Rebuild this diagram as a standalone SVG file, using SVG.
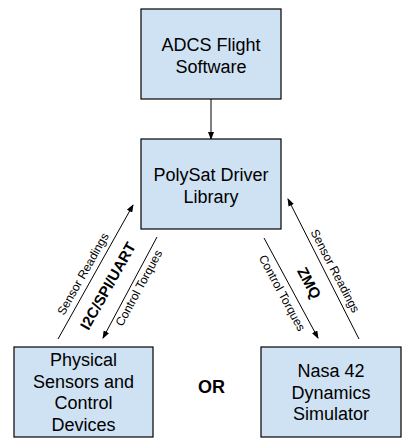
<svg xmlns="http://www.w3.org/2000/svg" width="420" height="447" viewBox="0 0 420 447">
<defs>
<style>
.box{fill:#cfe2f3;stroke:#000;stroke-width:1.2}
.t{font-family:"Liberation Sans",Arial,sans-serif;font-size:18px;fill:#000;text-anchor:middle}
.lbl{font-family:"Liberation Sans",Arial,sans-serif;font-size:12px;fill:#000;text-anchor:middle}
.bold{font-family:"Liberation Sans",Arial,sans-serif;font-size:15px;font-weight:bold;fill:#000;text-anchor:middle}
.c{stroke:#000;stroke-width:1;fill:none;marker-end:url(#ah)}
</style>
<marker id="ah" markerWidth="8" markerHeight="6" refX="7" refY="3" orient="auto" markerUnits="userSpaceOnUse">
<path d="M0,0 L8,3 L0,6 z" fill="#000"/>
</marker>
</defs>
<rect width="420" height="447" fill="#fff"/>
<g id="connectors">
<line class="c" x1="211" y1="99" x2="211" y2="139"/>
<line class="c" x1="58" y1="339" x2="133" y2="205"/>
<line class="c" x1="157" y1="237" x2="103" y2="338"/>
<line class="c" x1="359" y1="339" x2="288" y2="199"/>
<line class="c" x1="264" y1="238" x2="318" y2="338"/>
<text class="lbl" transform="translate(83,274) rotate(-60.6)" y="4">Sensor Readings</text>
<text class="bold" transform="translate(108,286) rotate(-60.6)" y="5">I2C/SPI/UART</text>
<text class="lbl" transform="translate(139,288) rotate(-61.5)" y="4">Control Torques</text>
<text class="lbl" transform="translate(335,271) rotate(62.5)" y="4">Sensor Readings</text>
<text class="bold" transform="translate(309,283) rotate(62)" y="5">ZMQ</text>
<text class="lbl" transform="translate(282,293) rotate(61.6)" y="4">Control Torques</text>
</g>
<g id="adcs">
<rect class="box" x="141" y="9" width="140" height="90"/>
<text class="t" x="211" y="50.5">ADCS Flight</text>
<text class="t" x="211" y="72.5">Software</text>
</g>
<g id="polysat">
<rect class="box" x="141" y="139" width="140" height="90"/>
<text class="t" x="211" y="180.5">PolySat Driver</text>
<text class="t" x="211" y="202.5">Library</text>
</g>
<g id="physical">
<rect class="box" x="14" y="347" width="139" height="90"/>
<text class="t" x="83.5" y="366">Physical</text>
<text class="t" x="83.5" y="387.5">Sensors and</text>
<text class="t" x="83.5" y="409">Control</text>
<text class="t" x="83.5" y="430.5">Devices</text>
</g>
<g id="or">
<text x="211.5" y="393" font-family="Liberation Sans, Arial, sans-serif" font-size="18" font-weight="bold" text-anchor="middle">OR</text>
</g>
<g id="nasa">
<rect class="box" x="261" y="347" width="140" height="90"/>
<text class="t" x="331" y="377">Nasa 42</text>
<text class="t" x="331" y="398.5">Dynamics</text>
<text class="t" x="331" y="420">Simulator</text>
</g>
</svg>
